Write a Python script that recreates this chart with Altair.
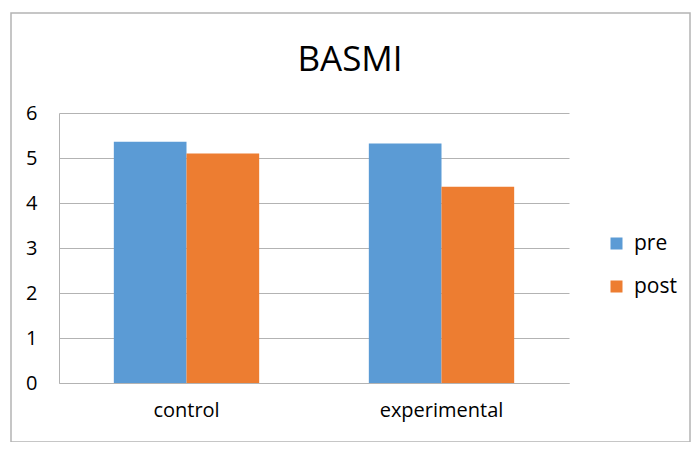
import altair as alt
import pandas as pd

groups = ["control", "control", "experimental", "experimental"]
phases = ["pre", "post", "pre", "post"]
values = [5.36, 5.10, 5.32, 4.36]
title_text = ["BASMI"]

df = pd.DataFrame({"group": groups, "phase": phases, "basmi": values})

font = "Open Sans"
gray = "#B3B3B3"

# grouped bars, pre/post side by side
bars = (
    alt.Chart(df)
    .mark_bar()
    .encode(
        x=alt.X(
            "group:N",
            title=None,
            sort=["control", "experimental"],
            scale=alt.Scale(paddingInner=0.43, paddingOuter=0.215),
            axis=alt.Axis(labelAngle=0, ticks=False, domainColor=gray, labelFontSize=20,
                          labelPadding=17, labelColor="#000000", labelFont=font),
        ),
        xOffset=alt.XOffset("phase:N", sort=["pre", "post"],
                            scale=alt.Scale(paddingInner=0, paddingOuter=0)),
        y=alt.Y(
            "basmi:Q",
            title=None,
            scale=alt.Scale(domain=[0, 6]),
            axis=alt.Axis(values=[0, 1, 2, 3, 4, 5, 6], ticks=False, domainColor=gray,
                          gridColor=gray, labelFontSize=20, labelPadding=22,
                          labelColor="#000000", labelFont=font),
        ),
        color=alt.Color(
            "phase:N",
            scale=alt.Scale(domain=["pre", "post"], range=["#5B9BD5", "#ED7D31"]),
            legend=alt.Legend(title=None, orient="none", legendX=547, legendY=120,
                              symbolType="square", symbolSize=144, symbolStrokeWidth=0,
                              labelFontSize=21, labelFont=font, labelColor="#000000",
                              labelOffset=7, rowPadding=21, padding=0),
        ),
    )
)

# outer chart frame
border = (
    alt.Chart(pd.DataFrame({"k": [0]}))
    .mark_rect(filled=False, stroke="#B4B4B4", strokeWidth=1.5, clip=False)
    .encode(x=alt.value(-48), x2=alt.value(631), y=alt.value(-100), y2=alt.value(329))
)

# chart title as a text mark
title = (
    alt.Chart(pd.DataFrame({"t": title_text}))
    .mark_text(font=font, fontSize=35, align="center", baseline="alphabetic",
               color="#000000", clip=False)
    .encode(text="t:N", x=alt.value(291), y=alt.value(-42))
)

chart = (
    alt.layer(border, bars, title)
    .properties(
        width=510,
        height=270,
        autosize="none",
        padding={"left": 51, "top": 105, "right": 123, "bottom": 59},
    )
    .configure_view(stroke=None)
)

chart.save("out.html", embed_options={"renderer": "svg", "actions": False})
